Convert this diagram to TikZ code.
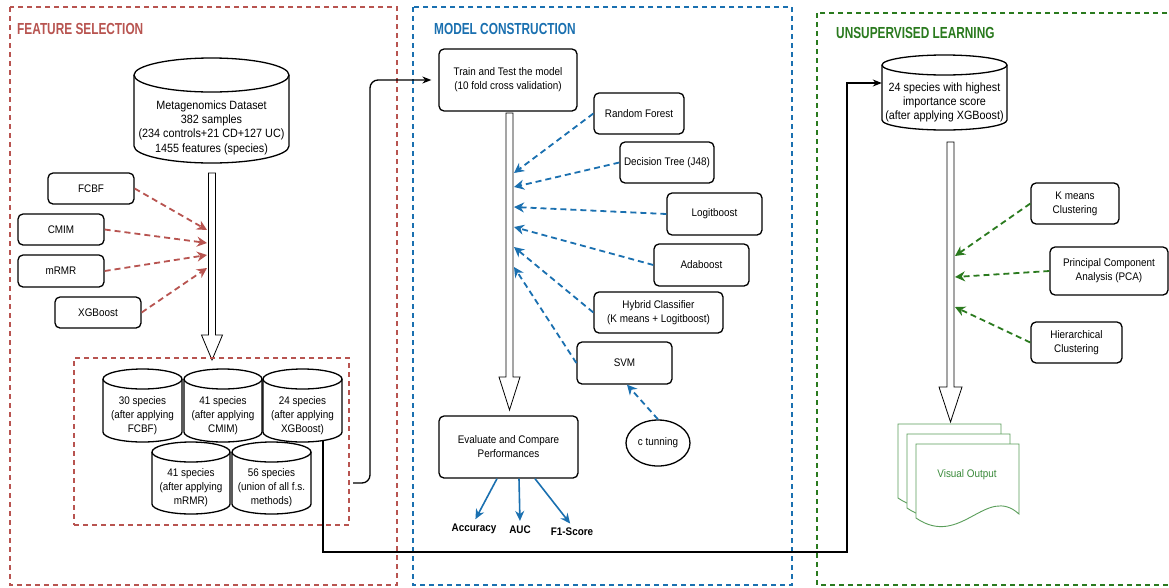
\documentclass[tikz,border=0pt]{standalone}
\usepackage{fontspec}
\setmainfont{Liberation Sans}[FakeStretch=0.9]
\newfontfamily\titlefont{Liberation Sans}[FakeStretch=0.74]
\usetikzlibrary{arrows.meta,calc,shapes.geometric}
\definecolor{fsred}{HTML}{B85450}
\definecolor{mcblue}{HTML}{1A70B0}
\definecolor{ulgreen}{HTML}{2A7A1E}
\definecolor{vogreen}{HTML}{5A9E5A}
\definecolor{votext}{HTML}{3A8A3A}
\tikzset{
 panel/.style={line width=1.3pt, dash pattern=on 5pt off 4pt},
 box/.style={draw, rounded corners=5pt, line width=1.3pt, fill=white, align=center, font=\fontsize{11}{14}\selectfont, inner sep=1pt},
 conn/.style={line width=1.3pt, -{Stealth[length=9pt,width=7pt]}},
 redarr/.style={fsred, line width=1.8pt, dash pattern=on 6pt off 4pt, -{Stealth[length=10pt,width=10pt]}},
 bluearr/.style={mcblue, line width=1.8pt, dash pattern=on 6pt off 4pt, -{Stealth[length=10pt,width=10pt]}},
 bluesolid/.style={mcblue, line width=1.6pt, -{Stealth[length=10pt,width=9pt]}},
 greenarr/.style={ulgreen, line width=1.8pt, dash pattern=on 6pt off 4pt, -{Stealth[length=10pt,width=10pt]}},
 hollow/.style={draw, fill=white, line width=0.8pt},
 cylstyle/.style={draw, fill=white, line width=1.3pt},
 title/.style={font=\titlefont\bfseries\fontsize{16}{18}\selectfont, anchor=west, inner sep=0},
 body/.style={font=\fontsize{11}{14}\selectfont, align=center, inner sep=0},
 bigbody/.style={font=\fontsize{12}{14.3}\selectfont, align=center, inner sep=0},
 lbl/.style={font=\bfseries\fontsize{11}{13}\selectfont, inner sep=2pt},
}
% cylinder: name, x1, y1, x2, y2, ry, text style, text
\newcommand{\mycyl}[8]{%
 \pgfmathsetmacro\cylXm{(#2+#4)/2}%
 \pgfmathsetmacro\cylRx{(#4-#2)/2}%
 \pgfmathsetmacro\cylKx{0.5523*\cylRx}%
 \pgfmathsetmacro\cylKy{0.5523*#6}%
 \pgfmathsetmacro\cylYt{#3+#6}%
 \pgfmathsetmacro\cylYb{#5-#6}%
 \pgfmathsetmacro\cylYc{#3+2*#6}%
 \draw[cylstyle] (#2,\cylYt) -- (#2,\cylYb) .. controls (#2,\cylYb+\cylKy) and (\cylXm-\cylKx,#5) .. (\cylXm,#5) .. controls (\cylXm+\cylKx,#5) and (#4,\cylYb+\cylKy) .. (#4,\cylYb) -- (#4,\cylYt) .. controls (#4,\cylYt-\cylKy) and (\cylXm+\cylKx,#3) .. (\cylXm,#3) .. controls (\cylXm-\cylKx,#3) and (#2,\cylYt-\cylKy) .. (#2,\cylYt) -- cycle;
 \draw[cylstyle, fill=none] (#2,\cylYt) .. controls (#2,\cylYt+\cylKy) and (\cylXm-\cylKx,\cylYc) .. (\cylXm,\cylYc) .. controls (\cylXm+\cylKx,\cylYc) and (#4,\cylYt+\cylKy) .. (#4,\cylYt);
 \node[inner sep=0, minimum width={#4-#2}, minimum height={#5-#3}] (#1) at (\cylXm,{(#3+#5)/2}) {};
 \node[#7] (#1-t) at (\cylXm,{(\cylYc+#5)/2}) {#8};
}
% hollow arrow: start coord, tip coord, head length, head half width
\newcommand{\hollowarrow}[4]{%
 \draw[hollow] let \p1=(#1), \p2=(#2) in
 ({\x1-3.5pt},\y1) -- ({\x1+3.5pt},\y1) -- ({\x1+3.5pt},{\y2+#3}) -- ({\x1+#4},{\y2+#3}) -- (\x1,\y2) -- ({\x1-#4},{\y2+#3}) -- ({\x1-3.5pt},{\y2+#3}) -- cycle;
}
% document page: x0, y0
\newcommand{\docpage}[2]{%
 \draw[vogreen, line width=0.9pt, fill=white] (#1,#2) -- ({#1+103},#2) -- ({#1+103},{#2+70}) .. controls ({#1+70},{#2+40}) and ({#1+45},{#2+105}) .. (#1,{#2+74}) -- cycle;
}
\begin{document}
\begin{tikzpicture}[x=1pt,y=-1pt]
\useasboundingbox (0,0) rectangle (1169,587);
\fill[white] (0,0) rectangle (1169,587);

% ---------- panels ----------
\draw[panel, fsred] (10,7) rectangle (397,585);
\draw[panel, mcblue] (413,7) rectangle (792,585);
\draw[panel, ulgreen] (817,13) rectangle (1185,585);
\node[title, text=fsred] (t1) at (17,29) {FEATURE SELECTION};
\node[title, text=mcblue] (t2) at (434,29) {MODEL CONSTRUCTION};
\node[title, text=ulgreen] (t3) at (836,33) {UNSUPERVISED LEARNING};

% ---------- feature selection ----------
\mycyl{ds}{134}{58}{289}{163}{17}{bigbody}{Metagenomics Dataset\\382 samples\\(234 controls+21 CD+127 UC)\\1455 features (species)}

\coordinate (fsA) at (212,173);
\coordinate (fsB) at (212,360);
\hollowarrow{fsA}{fsB}{25pt}{10.5pt}

\node[box, minimum width=86, minimum height=31] (fcbf) at (91,188.5) {FCBF};
\node[box, minimum width=86, minimum height=31] (cmim) at (61,229.5) {CMIM};
\node[box, minimum width=86, minimum height=32] (mrmr) at (61,271) {mRMR};
\node[box, minimum width=86, minimum height=31] (xgb) at (98,312.5) {XGBoost};

\coordinate (r1) at (207,230);
\coordinate (r2) at (207,243);
\coordinate (r3) at (207,255);
\coordinate (r4) at (207,268);
\draw[redarr] (fcbf.east) -- (r1);
\draw[redarr] (cmim.east) -- (r2);
\draw[redarr] (mrmr.east) -- (r3);
\draw[redarr] (xgb.east) -- (r4);

\node[panel, draw=fsred, minimum width=275, minimum height=167, inner sep=0] (fsbox) at (211.5,441.5) {};

\mycyl{c1}{103}{369}{182}{442}{10}{body}{30 species\\(after applying\\FCBF)}
\mycyl{c2}{184}{369}{262}{442}{10}{body}{41 species\\(after applying\\CMIM)}
\mycyl{c3}{263}{369}{342}{442}{10}{body}{24 species\\(after applying\\XGBoost)}
\mycyl{c4}{152}{442}{230}{514}{10}{body}{41 species\\(after applying\\mRMR)}
\mycyl{c5}{232}{442}{311}{514}{10}{body}{56 species\\(union of all f.s.\\methods)}

% ---------- model construction ----------
\node[box, minimum width=138, minimum height=62] (train) at (508,80) {Train and Test the model\\(10 fold cross validation)};
\node[box, minimum width=139, minimum height=62] (eval) at (508.5,447) {Evaluate and Compare\\Performances};

\coordinate (mcA) at (509.5,113);
\coordinate (mcB) at (509.5,410);
\hollowarrow{mcA}{mcB}{33pt}{10.5pt}

\node[box, minimum width=90, minimum height=41] (rf) at (639,113.5) {Random Forest};
\node[box, minimum width=94, minimum height=41] (dt) at (667,162.5) {Decision Tree (J48)};
\node[box, minimum width=95, minimum height=42] (lb) at (714.5,214) {Logitboost};
\node[box, minimum width=95, minimum height=42] (ab) at (701.5,265) {Adaboost};
\node[box, minimum width=129, minimum height=41] (hy) at (658.5,312.5) {Hybrid Classifier\\(K means + Logitboost)};
\node[box, minimum width=95, minimum height=42] (svm) at (624.5,363) {SVM};
\node[draw, ellipse, line width=1.3pt, minimum width=64, minimum height=46, inner sep=0, font=\fontsize{11}{14}\selectfont] (ct) at (658,443) {c tunning};

\coordinate (b1) at (514,173);
\coordinate (b2) at (514,187);
\coordinate (b3) at (514,207);
\coordinate (b4) at (514,227);
\coordinate (b5) at (514,247);
\coordinate (b6) at (514,267);
\draw[bluearr] (rf.west) -- (b1);
\draw[bluearr] (dt.west) -- (b2);
\draw[bluearr] (lb.west) -- (b3);
\draw[bluearr] (ab.west) -- (b4);
\draw[bluearr] (hy.west) -- (b5);
\draw[bluearr] (svm.west) -- (b6);
\draw[bluearr] (ct.north) -- ($(svm.south)+(2.5,0)$);

\node[lbl] (acc) at (474,529) {Accuracy};
\node[lbl] (auc) at (520,530) {AUC};
\node[lbl] (f1) at (572,532) {F1-Score};
\draw[bluesolid, shorten >=3pt] ($(eval.south)+(-11.5,0)$) -- (acc.north);
\draw[bluesolid, shorten >=3pt] ($(eval.south)+(10.5,0)$) -- (auc.north);
\draw[bluesolid, shorten >=3pt] ($(eval.south)+(26.5,0)$) -- (f1.north);

% ---------- unsupervised learning ----------
\mycyl{u24}{882}{55}{1007}{130}{10}{bigbody}{24 species with highest\\importance score\\(after applying XGBoost)}

\coordinate (ulA) at (950.5,142);
\coordinate (ulB) at (950.5,422);
\hollowarrow{ulA}{ulB}{35pt}{11.5pt}

\node[box, minimum width=88, minimum height=41] (km) at (1075,203.5) {K means\\Clustering};
\node[box, minimum width=118, minimum height=48] (pca) at (1109,271) {Principal Component\\Analysis (PCA)};
\node[box, minimum width=91, minimum height=41] (hc) at (1076.5,342.5) {Hierarchical\\Clustering};

\coordinate (g1) at (955,256);
\coordinate (g2) at (955,277);
\coordinate (g3) at (955,307);
\draw[greenarr] (km.west) -- (g1);
\draw[greenarr] (pca.west) -- (g2);
\draw[greenarr] (hc.west) -- (g3);

\docpage{898}{424}
\docpage{907}{434}
\docpage{916}{444}
\node[font=\fontsize{11}{14}\selectfont, text=votext, inner sep=0] (vo) at (967,475) {Visual Output};

% ---------- cross-panel connectors ----------
\coordinate (fsout) at (353,483);
\draw[conn, rounded corners=8pt, shorten >=7pt] (fsout) -- (370,483) -- (370,80) -- (train.west);

\coordinate (c3out) at ($(c3.south)+(20.5,-2)$);
\coordinate (bend1) at (847,552);
\draw[conn] (c3out) |- (bend1) |- ($(u24.west)+(0,-9.5)$);
\end{tikzpicture}
\end{document}
